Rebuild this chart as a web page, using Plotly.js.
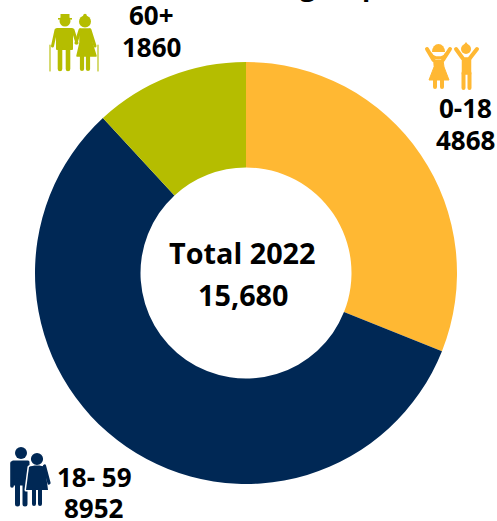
<!DOCTYPE html>
<html><head><meta charset="utf-8">
<script src="https://cdn.plot.ly/plotly-3.0.1.min.js"></script>
<style>html,body{margin:0;padding:0;background:#fff;overflow:hidden}</style>
</head><body><div id="chart" style="width:497px;height:521px"></div>
<script>
const categories = ["0-18", "18- 59", "60+"];
const values = [4868, 8952, 1860];
const colors = ["#FFB833", "#002855", "#B5BD00"];
const totalLabel = "Total 2022";
const totalValue = "15,680";
const titleText = "group";
const W = 497, H = 521;
const font = "'Open Sans', 'Noto Sans', sans-serif";

function svgImg(w, h, body) {
  return "data:image/svg+xml;utf8," + encodeURIComponent(
    `<svg xmlns="http://www.w3.org/2000/svg" width="${w}" height="${h}" viewBox="0 0 ${w} ${h}">${body}</svg>`);
}
const elders = svgImg(60, 66, `<g fill="#B5BD00" stroke="#B5BD00" stroke-linecap="round" stroke-linejoin="round">
  <circle cx="20" cy="13" r="5.5" stroke="none"/><rect x="13" y="10" width="14" height="1.6" stroke="none"/><rect x="15.5" y="6" width="9" height="5" stroke="none"/>
  <circle cx="40" cy="13.5" r="6" stroke="none"/><circle cx="40" cy="7.5" r="1.8" stroke="none"/>
  <path d="M12 21h15v20h-15z" stroke-width="2"/>
  <path d="M11 22L7.5 38M28 22L32 35" fill="none" stroke-width="3"/>
  <path d="M15 40V61M23 40V61" fill="none" stroke-width="4.6"/>
  <path d="M35 21h10l2 14 4 13H32l3-13z" stroke-width="1.5"/>
  <path d="M35 22L31 35M45 22L50 38" fill="none" stroke-width="3"/>
  <path d="M37 47V61M43 47V61" fill="none" stroke-width="4.2"/>
  <path d="M5 37V63M53 37V63" fill="none" stroke-width="1.1"/>
</g>`);
const kids = svgImg(64, 56, `<g fill="#FFB833" stroke="#FFB833" stroke-linecap="round" stroke-linejoin="round">
  <path d="M12 14a6.5 8 0 0 1 13 0z" stroke="none"/>
  <path d="M7 11L13.5 22M30 11L23 22" fill="none" stroke-width="4"/>
  <path d="M11 16c2 5 13 5 15 0" fill="none" stroke="#FFB833" stroke-width="3"/>
  <path d="M14 22h9l1 7 5 13H9l5-13z" stroke-width="1"/>
  <path d="M15 42V49M22 42V49" fill="none" stroke-width="4"/>
  <circle cx="46" cy="11" r="5" stroke="none"/><path d="M46 4l3 4h-6z" stroke="none"/>
  <path d="M36 11L42.5 20M57 11L50 20" fill="none" stroke-width="4"/>
  <path d="M42.5 20h8v16h-8z" stroke-width="1.5"/>
  <path d="M43.5 35V50M49.5 35V50" fill="none" stroke-width="4"/>
</g>`);
const couple = svgImg(50, 66, `<g fill="#002855" stroke="#002855" stroke-linecap="round" stroke-linejoin="round">
  <circle cx="16" cy="10" r="6" stroke="none"/>
  <path d="M8 19h15v22H8z" stroke-width="3"/>
  <path d="M7 20V43" fill="none" stroke-width="3.6"/>
  <path d="M12.5 38V61M20 38V61" fill="none" stroke-width="5"/>
  <path d="M24 24c3-2 13-2 16 0l3 23H21z" stroke="#fff" stroke-width="3"/>
  <circle cx="32" cy="16" r="6.8" stroke="#fff" stroke-width="1.4"/>
  <path d="M24 24c3-2 13-2 16 0l3 23H21z" stroke="none"/>
  <path d="M39.5 23L44 40" fill="none" stroke-width="3.2"/>
  <path d="M29 47V61M35 47V61" fill="none" stroke-width="4"/>
</g>`);

const images = [
  {source: elders, x: 45/W, y: 1-8/H, sizex: 60/W, sizey: 66/H},
  {source: kids, x: 420/W, y: 1-38/H, sizex: 64/W, sizey: 56/H},
  {source: couple, x: 5/W, y: 1-443/H, sizex: 50/W, sizey: 66/H}
].map(i => Object.assign(i, {xref:"paper", yref:"paper", xanchor:"left", yanchor:"top", sizing:"stretch", layer:"above"}));

function ann(text, px, py, size) {
  return {text, x: px/W, y: 1-py/H, xref:"paper", yref:"paper", xanchor:"center", yanchor:"middle",
    showarrow:false, font:{family:font, size, color:"#000"}};
}
const annotations = [
  ann("<b>"+totalLabel+"</b>", 242.5, 253, 28.8),
  ann("<b>"+totalValue+"</b>", 243, 294, 28.8),
  ann("<b>"+categories[2]+"</b>", 151, 15, 26),
  ann("<b>"+values[2]+"</b>", 151, 47, 26),
  ann("<b>"+categories[0]+"</b>", 465, 108, 26),
  ann("<b>"+values[0]+"</b>", 465, 140, 26),
  ann("<b>"+categories[1]+"</b>", 94, 477, 26),
  ann("<b>"+values[1]+"</b>", 94, 508, 26),
  ann("<b>"+titleText+"</b>", 339, -14, 27)
];
Plotly.newPlot("chart", [{
  type:"pie", labels:categories, values, hole:0.5, sort:false, direction:"clockwise", rotation:0,
  textinfo:"none", hoverinfo:"none", marker:{colors, line:{width:0}},
  domain:{x:[35/W,457/W], y:[1-484/H,1-62/H]}
}], {
  width:W, height:H, margin:{l:0,r:0,t:0,b:0}, showlegend:false,
  paper_bgcolor:"#fff", annotations, images
}, {displayModeBar:false, staticPlot:true});
</script></body></html>
